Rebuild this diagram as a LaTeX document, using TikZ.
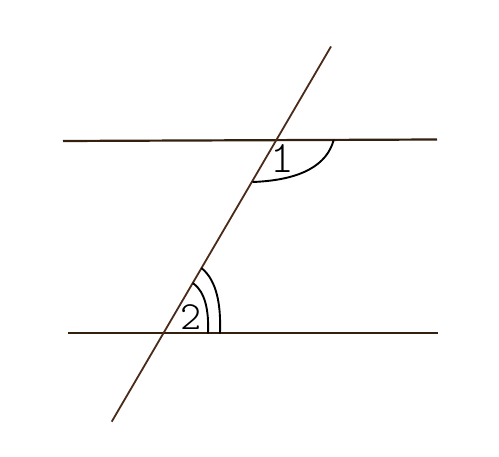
\documentclass[tikz,border=0pt]{standalone}
\usepackage{fontspec}
\newfontfamily\handfont{lmmonolt10-regular.otf}
\definecolor{linebrown}{HTML}{33200F}
\definecolor{transbrown}{HTML}{4A2A18}
\begin{document}
\begin{tikzpicture}[x=1pt,y=-1pt,
  hline/.style={draw=linebrown,line width=2.2pt},
  tline/.style={draw=transbrown,line width=1.8pt},
  anglemark/.style={draw=black,line width=1.9pt,line cap=round},
  lbl/.style={inner sep=0pt,text=black}]
\useasboundingbox (0,0) rectangle (499,457);
\coordinate (A1) at (63,141);
\coordinate (A2) at (437,139.5);
\coordinate (B1) at (68,333.3);
\coordinate (B2) at (437.5,333.3);
\coordinate (T1) at (331,46.5);
\coordinate (T2) at (111.7,421.7);
\draw[hline] (A1) -- (A2);
\draw[hline] (B1) -- (B2);
\draw[tline] (T1) -- (T2);
% angle 1
\coordinate (P1) at (333.5,140.5);
\coordinate (Q1) at (253,182);
\draw[anglemark] (P1) .. controls (327,164) and (303,180) .. (Q1);
\node[lbl,font=\handfont\fontsize{45}{45}\selectfont] (n1) at (282.5,158.5) {1};
% angle 2
\coordinate (P2) at (193.3,283.3);
\coordinate (Q2) at (208,333);
\coordinate (P3) at (201.8,268.3);
\coordinate (Q3) at (220,333);
\draw[anglemark] (P2) .. controls (205,292) and (209,310) .. (Q2);
\draw[anglemark] (P3) .. controls (217,281) and (221,305) .. (Q3);
\node[lbl,font=\handfont\fontsize{40}{40}\selectfont] (n2) at (191,316.8) {2};
\end{tikzpicture}
\end{document}
